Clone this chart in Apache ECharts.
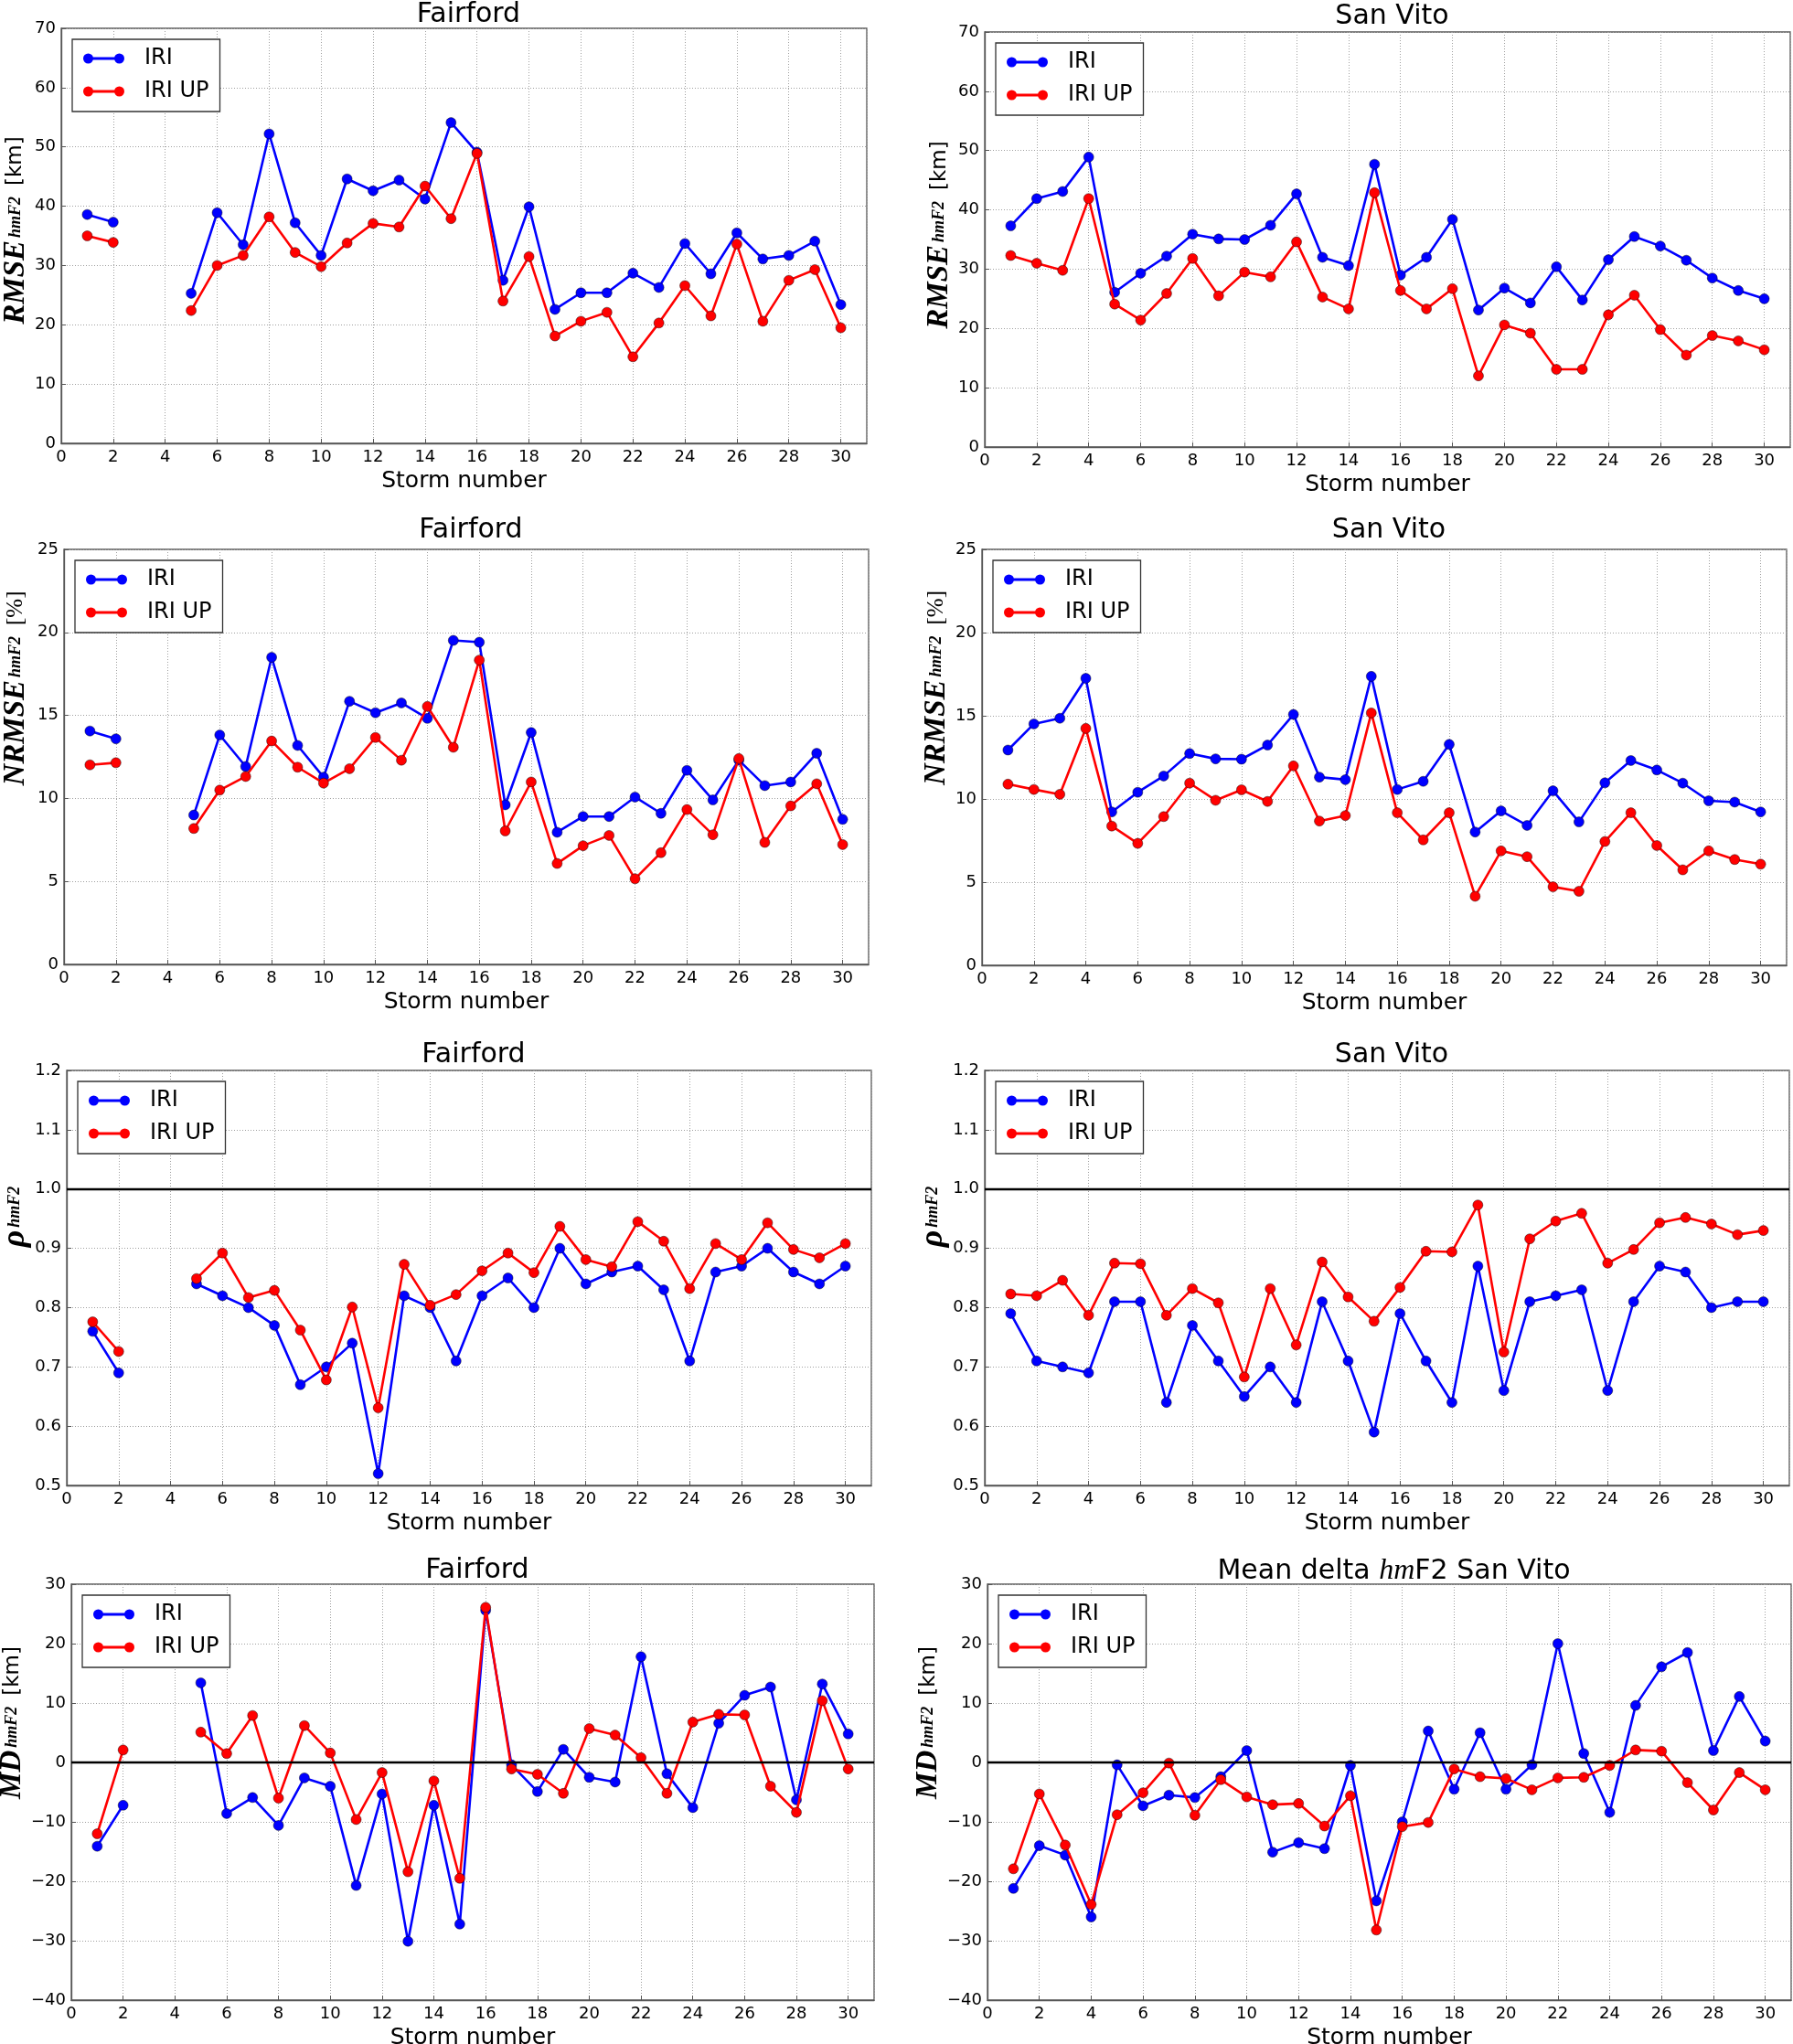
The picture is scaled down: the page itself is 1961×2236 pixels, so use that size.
<!DOCTYPE html>
<html>
<head>
<meta charset="utf-8">
<script src="https://cdn.jsdelivr.net/npm/echarts@6.0.0/dist/echarts.min.js"></script>
<style>
html,body{margin:0;padding:0;background:#ffffff;}
#chart{width:1961px;height:2236px;}
</style>
</head>
<body>
<div id="chart"></div>
<script>
// ---------- data ----------
const storms = [1,2,3,4,5,6,7,8,9,10,11,12,13,14,15,16,17,18,19,20,21,22,23,24,25,26,27,28,29,30];
const seriesNames = ['IRI', 'IRI UP'];

const fairRmseIRI = [38.6, 37.3, null, null, 25.3, 38.9, 33.5, 52.2, 37.2, 31.7, 44.6, 42.6, 44.4, 41.2, 54.1, 49.1, 27.5, 39.9, 22.6, 25.4, 25.4, 28.7, 26.3, 33.7, 28.6, 35.5, 31.1, 31.7, 34.1, 23.4];
const fairRmseUP  = [35.0, 33.9, null, null, 22.4, 30.0, 31.7, 38.2, 32.2, 29.8, 33.8, 37.1, 36.5, 43.4, 37.9, 48.9, 24.0, 31.5, 18.1, 20.6, 22.1, 14.6, 20.3, 26.6, 21.5, 33.6, 20.6, 27.5, 29.3, 19.5];

const svRmseIRI = [37.3, 41.9, 43.1, 48.9, 26.1, 29.3, 32.2, 35.9, 35.1, 35.0, 37.4, 42.7, 32.0, 30.6, 47.7, 29.0, 32.0, 38.4, 23.1, 26.8, 24.3, 30.4, 24.8, 31.6, 35.5, 33.9, 31.5, 28.5, 26.4, 25.0];
const svRmseUP  = [32.3, 31.0, 29.8, 41.9, 24.1, 21.4, 25.9, 31.8, 25.5, 29.5, 28.7, 34.6, 25.3, 23.3, 42.9, 26.4, 23.3, 26.7, 12.0, 20.6, 19.2, 13.1, 13.1, 22.3, 25.6, 19.8, 15.5, 18.8, 17.9, 16.4];

const fairNrmseIRI = [14.06, 13.59, null, null, 9.00, 13.82, 11.92, 18.50, 13.19, 11.28, 15.85, 15.16, 15.75, 14.82, 19.52, 19.41, 9.61, 13.97, 7.96, 8.91, 8.91, 10.08, 9.10, 11.69, 9.91, 12.30, 10.77, 10.99, 12.72, 8.74];
const fairNrmseUP  = [12.02, 12.15, null, null, 8.19, 10.50, 11.32, 13.46, 11.88, 10.92, 11.79, 13.67, 12.30, 15.54, 13.08, 18.33, 8.04, 10.99, 6.08, 7.15, 7.77, 5.16, 6.73, 9.33, 7.81, 12.40, 7.35, 9.55, 10.88, 7.22];

const svNrmseIRI = [12.94, 14.51, 14.85, 17.25, 9.22, 10.40, 11.38, 12.73, 12.41, 12.39, 13.24, 15.08, 11.31, 11.16, 17.37, 10.57, 11.06, 13.28, 8.01, 9.28, 8.41, 10.49, 8.62, 10.97, 12.31, 11.74, 10.95, 9.89, 9.81, 9.22];
const svNrmseUP  = [10.89, 10.57, 10.28, 14.24, 8.37, 7.33, 8.94, 10.95, 9.92, 10.55, 9.85, 11.99, 8.67, 9.00, 15.17, 9.17, 7.54, 9.17, 4.15, 6.88, 6.53, 4.72, 4.45, 7.44, 9.17, 7.20, 5.74, 6.88, 6.36, 6.08];

const fairRhoIRI = [0.76, 0.69, null, null, 0.84, 0.82, 0.80, 0.77, 0.67, 0.70, 0.74, 0.52, 0.82, 0.80, 0.71, 0.82, 0.85, 0.80, 0.90, 0.84, 0.86, 0.87, 0.83, 0.71, 0.86, 0.87, 0.90, 0.86, 0.84, 0.87];
const fairRhoUP  = [0.776, 0.726, null, null, 0.849, 0.892, 0.817, 0.829, 0.762, 0.678, 0.801, 0.631, 0.873, 0.804, 0.822, 0.862, 0.892, 0.859, 0.937, 0.881, 0.869, 0.945, 0.912, 0.832, 0.908, 0.881, 0.943, 0.898, 0.884, 0.908];

const svRhoIRI = [0.79, 0.71, 0.70, 0.69, 0.81, 0.81, 0.64, 0.77, 0.71, 0.65, 0.70, 0.64, 0.81, 0.71, 0.59, 0.79, 0.71, 0.64, 0.87, 0.66, 0.81, 0.82, 0.83, 0.66, 0.81, 0.87, 0.86, 0.80, 0.81, 0.81];
const svRhoUP  = [0.823, 0.820, 0.846, 0.787, 0.875, 0.874, 0.787, 0.832, 0.808, 0.683, 0.832, 0.737, 0.877, 0.818, 0.777, 0.834, 0.895, 0.894, 0.973, 0.725, 0.916, 0.946, 0.959, 0.875, 0.898, 0.943, 0.952, 0.941, 0.923, 0.930];

const fairMdIRI = [-14.1, -7.2, null, null, 13.4, -8.6, -5.9, -10.6, -2.6, -4.0, -20.7, -5.3, -30.1, -7.2, -27.2, 25.6, -0.4, -4.9, 2.2, -2.5, -3.3, 17.8, -1.9, -7.6, 6.6, 11.3, 12.7, -6.3, 13.2, 4.8];
const fairMdUP  = [-12.0, 2.1, null, null, 5.1, 1.5, 7.9, -6.0, 6.2, 1.6, -9.6, -1.7, -18.4, -3.1, -19.5, 26.1, -1.1, -2.0, -5.2, 5.7, 4.6, 0.8, -5.2, 6.8, 8.1, 8.0, -4.0, -8.4, 10.4, -1.1];

const svMdIRI = [-21.2, -14.0, -15.6, -26.0, -0.4, -7.3, -5.5, -5.9, -2.4, 2.0, -15.1, -13.5, -14.5, -0.5, -23.3, -10.0, 5.3, -4.5, 5.0, -4.5, -0.4, 20.0, 1.5, -8.4, 9.6, 16.1, 18.5, 2.0, 11.1, 3.6];
const svMdUP  = [-17.9, -5.3, -13.9, -23.9, -8.8, -5.1, -0.1, -8.9, -2.9, -5.8, -7.1, -6.9, -10.7, -5.6, -28.2, -10.8, -10.1, -1.1, -2.4, -2.7, -4.6, -2.6, -2.5, -0.5, 2.1, 1.9, -3.4, -8.0, -1.7, -4.6];

const titles = ['Fairford', 'San Vito', 'Fairford', 'San Vito', 'Fairford', 'San Vito', 'Fairford', '{n|Mean delta }{i|hm}{n|F2 San Vito}'];
const xAxisTitle = 'Storm number';
const xRange = [0, 31, 2];
const yRanges = {rmse: [0, 70, 10], nrmse: [0, 25, 5], rho: [0.5, 1.2, 0.1], md: [-40, 30, 10]};
const refLines = {rho: 1.0, md: 0};

// ---------- layout / style ----------
const panels = [
  {l: 67,   t: 31,   r: 948,  b: 485,  kind: 'rmse',  d: [fairRmseIRI, fairRmseUP],   gap: 30, tt: -4,   sh: 12},
  {l: 1077, t: 35,   r: 1958, b: 489,  kind: 'rmse',  d: [svRmseIRI, svRmseUP],       gap: 28, tt: -2,   sh: 10},
  {l: 70,   t: 601,  r: 950,  b: 1055, kind: 'nrmse', d: [fairNrmseIRI, fairNrmseUP], gap: 33, tt: 560,  sh: 150},
  {l: 1074, t: 601,  r: 1954, b: 1056, kind: 'nrmse', d: [svNrmseIRI, svNrmseUP],     gap: 28, tt: 560,  sh: 152},
  {l: 73,   t: 1171, r: 953,  b: 1625, kind: 'rho',   d: [fairRhoIRI, fairRhoUP],     gap: 34, tt: 1134, sh: 146},
  {l: 1077, t: 1171, r: 1957, b: 1625, kind: 'rho',   d: [svRhoIRI, svRhoUP],         gap: 33, tt: 1134, sh: 146},
  {l: 78,   t: 1733, r: 956,  b: 2188, kind: 'md',    d: [fairMdIRI, fairMdUP],       gap: 38, tt: 1698, sh: 152},
  {l: 1080, t: 1733, r: 1959, b: 2188, kind: 'md',    d: [svMdIRI, svMdUP],           gap: 36, tt: 1698, sh: 152}
];
const colors = ['#0000ff', '#ff0000'];
const serif = "'Liberation Serif', 'DejaVu Serif', serif";
const sans = "'DejaVu Sans', sans-serif";
const mainStyle = {fontFamily: serif, fontStyle: 'italic', fontWeight: 'bold', fontSize: 33, lineHeight: 40, verticalAlign: 'middle', color: '#000'};
const subStyle = {fontFamily: serif, fontStyle: 'italic', fontWeight: 'bold', fontSize: 18, lineHeight: 40, verticalAlign: 'middle', color: '#000', padding: [0, 12, 0, 3]};
const unitStyle = {fontFamily: sans, fontSize: 23, lineHeight: 40, verticalAlign: 'middle', color: '#000'};
const unitSerif = {fontFamily: serif, fontSize: 25, lineHeight: 40, verticalAlign: 'middle', color: '#000'};
const yNames = {
  rmse: '{m|RMSE}{s|hmF2}{u|[km]}',
  nrmse: '{m|NRMSE}{s|hmF2}{v|[%]}',
  rho: '{g|ρ}{s|hmF2}',
  md: '{m|MD}{s|hmF2}{u|[km]}'
};
const legendIcon = 'path://M0,5.5 A5.5,5.5 0 1,1 11,5.5 A5.5,5.5 0 1,1 0,5.5 Z M34,5.5 A5.5,5.5 0 1,1 45,5.5 A5.5,5.5 0 1,1 34,5.5 Z M5.5,4 L39.5,4 L39.5,7 L5.5,7 Z';

function fmtY(kind) {
  return function (v) {
    if (kind === 'rho') return v.toFixed(1);
    const r = Math.round(v);
    return r < 0 ? '\u2212' + Math.abs(r) : String(r);
  };
}

const option = {
  animation: false,
  backgroundColor: '#ffffff',
  title: [], legend: [], grid: [], xAxis: [], yAxis: [], series: []
};

panels.forEach(function (p, i) {
  const cx = (p.l + p.r) / 2;
  option.title.push({
    text: titles[i],
    left: cx, top: p.tt, textAlign: 'center',
    textStyle: {
      fontFamily: sans, fontSize: 30, fontWeight: 'normal', color: '#000',
      rich: {
        n: {fontFamily: sans, fontSize: 30, color: '#000'},
        i: {fontFamily: serif, fontStyle: 'italic', fontSize: 32, color: '#000'}
      }
    }
  });
  option.grid.push({
    left: p.l, top: p.t, width: p.r - p.l, height: p.b - p.t,
    show: true, borderColor: '#555', borderWidth: 1.3, backgroundColor: '#fff',
    containLabel: false, outerBoundsMode: 'none'
  });
  option.legend.push({
    orient: 'vertical',
    left: p.l + 12, top: p.t + 12,
    data: seriesNames,
    icon: legendIcon,
    itemWidth: 45, itemHeight: 11, itemGap: 12,
    padding: [9, 12, 10, 12],
    borderColor: '#333', borderWidth: 1.3, backgroundColor: '#fff',
    selectedMode: false,
    itemStyle: {borderWidth: 0},
    textStyle: {fontFamily: sans, fontSize: 24, color: '#000', lineHeight: 24, padding: [0, 0, 0, 17]}
  });
  const yr = yRanges[p.kind];
  const mStyle = Object.assign({}, mainStyle, {padding: [0, 0, 0, p.sh]});
  const gStyle = Object.assign({}, mainStyle, {fontSize: 36, padding: [0, 0, 0, p.sh]});
  option.xAxis.push({
    type: 'value', gridIndex: i,
    min: xRange[0], max: xRange[1], interval: xRange[2],
    name: xAxisTitle, nameLocation: 'middle', nameGap: 29,
    nameTextStyle: {fontFamily: sans, fontSize: 25, color: '#000'},
    axisLine: {show: true, onZero: false, lineStyle: {color: '#555', width: 1.3}},
    axisTick: {show: true, inside: true, length: 5, lineStyle: {color: '#555'}},
    axisLabel: {fontFamily: sans, fontSize: 18, color: '#000', margin: 6, showMaxLabel: false},
    splitLine: {show: true, lineStyle: {color: '#a0a0a0', type: [1, 2], width: 1}}
  });
  option.yAxis.push({
    type: 'value', gridIndex: i,
    min: yr[0], max: yr[1], interval: yr[2],
    name: yNames[p.kind], nameLocation: 'middle', nameGap: p.gap, nameRotate: 90,
    nameTextStyle: {
      rich: {m: mStyle, s: subStyle, u: unitStyle, v: unitSerif, g: gStyle}
    },
    axisLine: {show: true, lineStyle: {color: '#555', width: 1.3}},
    axisTick: {show: true, inside: true, length: 5, lineStyle: {color: '#555'}},
    axisLabel: {fontFamily: sans, fontSize: 18, color: '#000', margin: 6, formatter: fmtY(p.kind)},
    splitLine: {show: true, lineStyle: {color: '#a0a0a0', type: [1, 2], width: 1}}
  });
  p.d.forEach(function (arr, k) {
    const s = {
      name: seriesNames[k], type: 'line',
      xAxisIndex: i, yAxisIndex: i,
      data: storms.map(function (x, j) { return [x, arr[j] === null ? '-' : arr[j]]; }),
      connectNulls: false,
      symbol: 'circle', symbolSize: 11, showSymbol: true,
      lineStyle: {color: colors[k], width: 2.6},
      itemStyle: {color: colors[k], borderColor: 'rgba(0,0,0,0.55)', borderWidth: 0.8},
      emphasis: {disabled: true},
      silent: true,
      z: 3 + k
    };
    if (k === 0 && refLines[p.kind] !== undefined) {
      s.markLine = {
        silent: true, symbol: ['none', 'none'],
        label: {show: false},
        lineStyle: {color: '#000', width: 2.4, type: 'solid'},
        emphasis: {disabled: true},
        data: [{yAxis: refLines[p.kind]}]
      };
    }
    option.series.push(s);
  });
});

const chart = echarts.init(document.getElementById('chart'), null, {renderer: 'canvas'});
chart.setOption(option);
</script>
</body>
</html>
